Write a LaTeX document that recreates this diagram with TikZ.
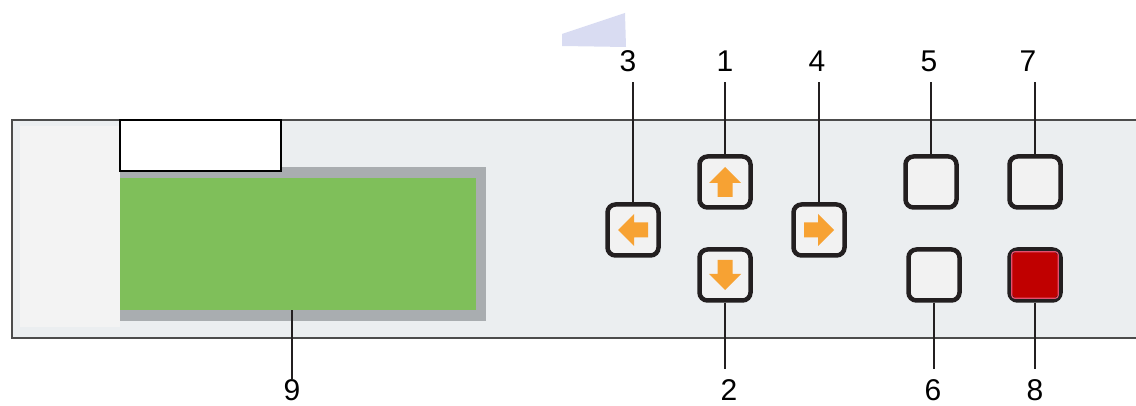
\documentclass[tikz,border=0pt]{standalone}
\usepackage{fontspec}
\setmainfont{Liberation Sans}
\usetikzlibrary{calc}
\definecolor{panelgrey}{HTML}{EBEEF0}
\definecolor{stripgrey}{HTML}{F3F3F3}
\definecolor{framegrey}{HTML}{A9ADB0}
\definecolor{lcdgreen}{HTML}{7FBF5A}
\definecolor{keyorange}{HTML}{F7A233}
\definecolor{keyface}{HTML}{F2F2F2}
\definecolor{keyline}{HTML}{231F20}
\definecolor{keyred}{HTML}{C00000}
\definecolor{keypink}{HTML}{E2506E}
\definecolor{ghost}{HTML}{D9DCF2}

\begin{document}
\begin{tikzpicture}[x=1pt,y=-1pt]
                  \tikzstyle{every node}+=[inner sep=0pt]
                  \tikzstyle{key}=[draw=keyline, fill=keyface, line width=4.5pt, rounded corners=8pt, minimum size=51pt]
                  \tikzstyle{num}=[font=\fontsize{30}{35}\selectfont]
                  \tikzstyle{lead}=[keyline, line width=1.5pt]
                  \tikzset{keyarrow/.pic={\fill [keyorange] (0,-15) -- (16,1) -- (7.5,1) -- (7.5,15) -- (-7.5,15) -- (-7.5,1) -- (-16,1) -- cycle;}}
                  \useasboundingbox (0,0) rectangle (1136,406);
                  \fill [ghost] (562,34) -- (625,13) -- (626,47) -- (562,46) -- cycle;
                  \draw [black!70, fill=panelgrey, line width=1.5pt] (12,120) rectangle (1140,338);
                  \fill [stripgrey] (20,126) rectangle (120,327);
                  \fill [framegrey] (120,167) rectangle (486,321);
                  \node [fill=lcdgreen, minimum width=356pt, minimum height=132pt] (lcd) at (298,244) {};
                  \draw [black, fill=white, line width=1.5pt] (120,120) rectangle (281,171);
                  \node [key] (b1) at (725,182) {};
                  \node [key] (b2) at (725,275) {};
                  \node [key] (b3) at (633,230) {};
                  \node [key] (b4) at (819,230) {};
                  \node [key] (b5) at (931,182) {};
                  \node [key] (b6) at (934,275) {};
                  \node [key] (b7) at (1035,182) {};
                  \node [key, fill=keyred] (b8) at (1035,275) {};
                  \draw [keypink, line width=1.2pt, rounded corners=3pt] ($(b8.north west)+(4.5,4.5)$) rectangle ($(b8.south east)+(-4.5,-4.5)$);
                  \pic at (b1) {keyarrow};
                  \pic [rotate=180] at (b2) {keyarrow};
                  \pic [rotate=90] at (b3) {keyarrow};
                  \pic [rotate=-90] at (b4) {keyarrow};
                  \node [num] (n1) at (725,61) {1};
                  \node [num] (n3) at (628,61) {3};
                  \node [num] (n4) at (817,61) {4};
                  \node [num] (n5) at (929,61) {5};
                  \node [num] (n7) at (1028,61) {7};
                  \node [num] (n9) at (292,390) {9};
                  \node [num] (n2) at (729,390) {2};
                  \node [num] (n6) at (933,390) {6};
                  \node [num] (n8) at (1035,390) {8};
                  \draw [lead, shorten >=10pt] (b1.north) -- (b1.north |- n1.south);
                  \draw [lead, shorten >=10pt] (b3.north) -- (b3.north |- n3.south);
                  \draw [lead, shorten >=10pt] (b4.north) -- (b4.north |- n4.south);
                  \draw [lead, shorten >=10pt] (b5.north) -- (b5.north |- n5.south);
                  \draw [lead, shorten >=10pt] (b7.north) -- (b7.north |- n7.south);
                  \draw [lead, shorten >=10pt] (b2.south) -- (b2.south |- n2.north);
                  \draw [lead, shorten >=10pt] (b6.south) -- (b6.south |- n6.north);
                  \draw [lead, shorten >=10pt] (b8.south) -- (b8.south |- n8.north);
                  \draw [lead] (n9.north |- lcd.south) -- (n9.north);
              \end{tikzpicture}
\end{document}
